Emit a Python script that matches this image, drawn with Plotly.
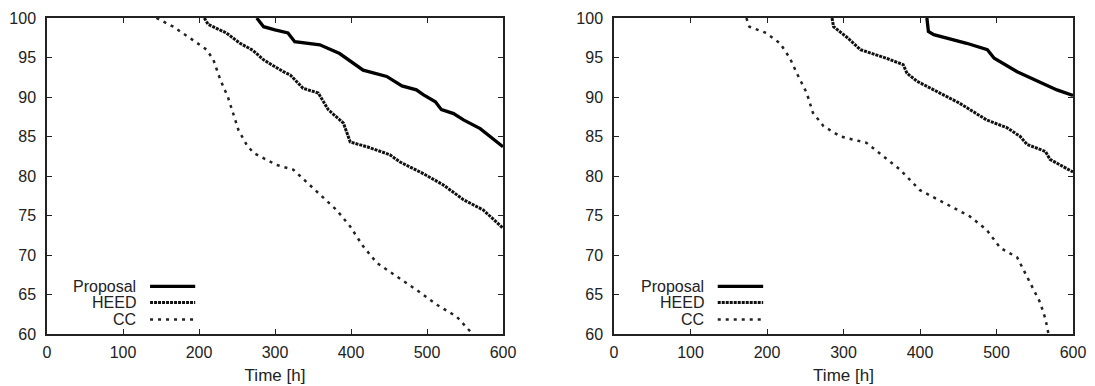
import plotly.graph_objects as go

# ---- Left panel data ----
L_prop_t = [276, 285, 300, 317, 326, 359, 385, 399, 416, 447, 467, 486, 495, 511, 519, 535, 548, 570, 583, 600]
L_prop_v = [100, 98.9, 98.5, 98.1, 97.0, 96.6, 95.5, 94.5, 93.4, 92.6, 91.4, 90.9, 90.3, 89.4, 88.4, 87.9, 87.1, 86.0, 85.0, 83.7]

L_heed_t = [207, 212, 236, 254, 271, 285, 311, 320, 337, 357, 370, 390, 399, 421, 451, 464, 495, 521, 548, 574, 600]
L_heed_v = [100, 99.2, 98.1, 96.8, 95.9, 94.7, 93.2, 92.8, 91.1, 90.5, 88.4, 86.7, 84.3, 83.7, 82.7, 81.8, 80.3, 78.9, 77.0, 75.7, 73.4]

L_cc_t = [144, 166, 192, 210, 219, 228, 238, 245, 252, 263, 272, 302, 324, 333, 359, 381, 399, 416, 434, 460, 486, 513, 539, 560]
L_cc_v = [100, 98.9, 97.2, 96.0, 94.7, 92.2, 90.0, 87.9, 85.8, 83.9, 82.9, 81.4, 80.8, 80.0, 77.7, 75.7, 73.6, 71.1, 69.0, 67.3, 65.6, 63.7, 62.2, 60.0]

# ---- Right panel data ----
R_prop_t = [409, 411, 418, 461, 488, 497, 527, 553, 579, 600]
R_prop_v = [100, 98.3, 97.9, 96.8, 96.0, 94.9, 93.2, 92.0, 90.9, 90.2]

R_heed_t = [285, 287, 304, 322, 356, 378, 383, 396, 426, 452, 487, 514, 531, 540, 564, 570, 600]
R_heed_v = [100, 98.9, 97.6, 96.0, 94.9, 94.1, 93.0, 92.0, 90.5, 89.2, 87.1, 86.1, 85.0, 84.0, 83.1, 82.1, 80.5]

R_cc_t = [173, 177, 199, 217, 230, 239, 252, 260, 274, 296, 330, 352, 374, 400, 435, 465, 487, 505, 527, 535, 548, 557, 564, 568]
R_cc_v = [100, 98.9, 98.1, 96.8, 94.9, 93.0, 90.5, 88.0, 86.3, 85.0, 84.2, 82.5, 80.8, 78.2, 76.4, 74.9, 73.2, 70.9, 69.7, 68.2, 65.7, 64.0, 61.9, 60.0]

series_names = ["Proposal", "HEED", "CC"]
x_ticks = [0, 100, 200, 300, 400, 500, 600]
y_ticks = [60, 65, 70, 75, 80, 85, 90, 95, 100]

styles = {
    "Proposal": dict(color="black", width=3.3, dash="solid"),
    "HEED": dict(color="#111", width=3, dash="3px,1px"),
    "CC": dict(color="#222", width=2.5, dash="3px,5px"),
}

fig = go.Figure()
panels = [
    ("x", "y", [(L_prop_t, L_prop_v), (L_heed_t, L_heed_v), (L_cc_t, L_cc_v)]),
    ("x2", "y2", [(R_prop_t, R_prop_v), (R_heed_t, R_heed_v), (R_cc_t, R_cc_v)]),
]
for xa, ya, data in panels:
    for name, (t, v) in zip(series_names, data):
        fig.add_trace(go.Scatter(x=t, y=v, mode="lines", name=name, xaxis=xa, yaxis=ya,
                                 line=styles[name], showlegend=False))

font = dict(family="Liberation Sans, Arial, sans-serif", size=16, color="#222")
title_font = dict(family="Liberation Sans, Arial, sans-serif", size=17, color="#222")
ax_common = dict(showgrid=False, zeroline=False, showline=True, linecolor="#222",
                 linewidth=1.5, mirror="ticks", ticks="inside", ticklen=5, tickwidth=1.2,
                 tickcolor="#222", tickfont=font)

# page has an 8px body margin; figure coords = page coords - 8
W, H = 1087, 378
dom1 = [39 / W, 495 / W]
dom2 = [606 / W, 1065 / W]

fig.update_layout(
    width=W, height=H,
    margin=dict(l=0, r=0, t=10, b=51.5, autoexpand=False),
    paper_bgcolor="white", plot_bgcolor="white",
    font=font,
    xaxis=dict(domain=dom1, anchor="y", range=[0, 600], tickvals=x_ticks, ticklabelstandoff=3,
               title=dict(text="Time [h]", font=title_font, standoff=9), **ax_common),
    yaxis=dict(domain=[0, 1], anchor="x", range=[60, 100], tickvals=y_ticks,
               ticklabelstandoff=6, **ax_common),
    xaxis2=dict(domain=dom2, anchor="y2", range=[0, 600], tickvals=x_ticks, ticklabelstandoff=3,
                title=dict(text="Time [h]", font=title_font, standoff=9), **ax_common),
    yaxis2=dict(domain=[0, 1], anchor="x2", range=[60, 100], tickvals=y_ticks,
                ticklabelstandoff=6, **ax_common),
)

# In-plot legend (text right-aligned, sample line to the right)
rows = [0.151, 0.0995, 0.046]
for xa, ya in [("x", "y"), ("x2", "y2")]:
    for name, ry in zip(series_names, rows):
        fig.add_annotation(xref=f"{xa} domain", yref=f"{ya} domain", x=0.2, y=ry,
                           text=name, showarrow=False, xanchor="right", yanchor="middle",
                           font=font)
        st = styles[name]
        fig.add_shape(type="line", xref=f"{xa} domain", yref=f"{ya} domain",
                      x0=0.226, x1=0.325, y0=ry, y1=ry,
                      line=dict(color=st["color"], width=st["width"], dash=st["dash"]))

fig.write_html("out.html")
